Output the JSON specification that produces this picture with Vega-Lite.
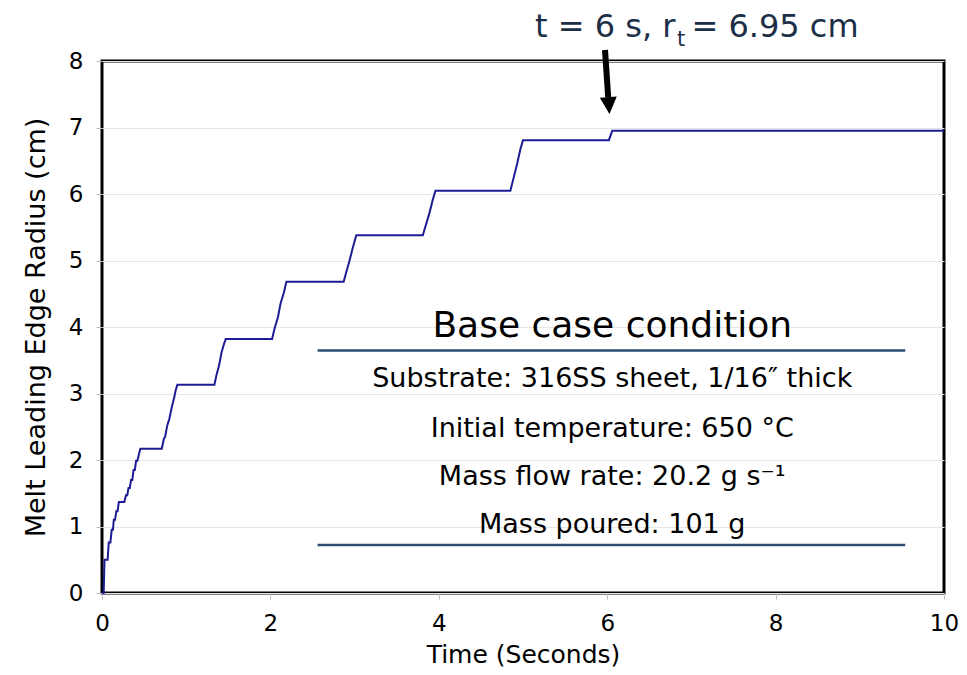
{
  "$schema": "https://vega.github.io/schema/vega-lite/v6.json",
  "width": 842,
  "height": 532,
  "autosize": {"type": "none"},
  "padding": {"left": 102, "top": 61, "right": 23, "bottom": 82},
  "background": "white",
  "config": {
    "view": {"stroke": "black", "strokeWidth": 3},
    "font": "DejaVu Sans",
    "axis": {
      "domain": false,
      "labelFont": "DejaVu Sans",
      "labelFontSize": 23,
      "labelColor": "black",
      "labelFlush": false,
      "titleFont": "DejaVu Sans",
      "titleFontSize": 25,
      "titleFontWeight": "normal",
      "titleColor": "black",
      "tickColor": "#bfbfbf",
      "tickSize": 6,
      "tickWidth": 1,
      "labelPadding": 13,
      "format": "d"
    }
  },
  "datasets": {
    "curve": [
      {"t": 0, "r": 0}, {"t": 0.02, "r": 0}, {"t": 0.03, "r": 0.5}, {"t": 0.067, "r": 0.5},
      {"t": 0.08, "r": 0.76}, {"t": 0.1, "r": 0.76}, {"t": 0.115, "r": 0.95}, {"t": 0.13, "r": 0.95},
      {"t": 0.14, "r": 1.1}, {"t": 0.155, "r": 1.1}, {"t": 0.17, "r": 1.23}, {"t": 0.185, "r": 1.23},
      {"t": 0.2, "r": 1.37}, {"t": 0.265, "r": 1.37}, {"t": 0.285, "r": 1.47}, {"t": 0.3, "r": 1.47},
      {"t": 0.315, "r": 1.58}, {"t": 0.33, "r": 1.58}, {"t": 0.345, "r": 1.7}, {"t": 0.36, "r": 1.7},
      {"t": 0.375, "r": 1.85}, {"t": 0.39, "r": 1.85}, {"t": 0.405, "r": 1.99}, {"t": 0.42, "r": 1.99},
      {"t": 0.455, "r": 2.17}, {"t": 0.71, "r": 2.17}, {"t": 0.735, "r": 2.32}, {"t": 0.75, "r": 2.35},
      {"t": 0.775, "r": 2.52}, {"t": 0.8, "r": 2.62}, {"t": 0.83, "r": 2.8}, {"t": 0.86, "r": 2.95},
      {"t": 0.875, "r": 3.05}, {"t": 0.895, "r": 3.13}, {"t": 1.335, "r": 3.13}, {"t": 1.36, "r": 3.28},
      {"t": 1.39, "r": 3.42}, {"t": 1.42, "r": 3.62}, {"t": 1.45, "r": 3.75}, {"t": 1.47, "r": 3.82},
      {"t": 2.02, "r": 3.82}, {"t": 2.05, "r": 3.98}, {"t": 2.09, "r": 4.15}, {"t": 2.12, "r": 4.35},
      {"t": 2.16, "r": 4.52}, {"t": 2.19, "r": 4.68}, {"t": 2.87, "r": 4.68}, {"t": 2.9, "r": 4.82},
      {"t": 2.94, "r": 5.0}, {"t": 2.98, "r": 5.2}, {"t": 3.02, "r": 5.38}, {"t": 3.81, "r": 5.38},
      {"t": 3.85, "r": 5.55}, {"t": 3.89, "r": 5.72}, {"t": 3.93, "r": 5.92}, {"t": 3.96, "r": 6.05},
      {"t": 4.85, "r": 6.05}, {"t": 4.89, "r": 6.25}, {"t": 4.93, "r": 6.45}, {"t": 4.97, "r": 6.68},
      {"t": 5.0, "r": 6.81}, {"t": 6.02, "r": 6.81}, {"t": 6.06, "r": 6.95}, {"t": 10, "r": 6.95}
    ],
    "boxLines": [
      {"t": 2.56, "t2": 9.54, "r": 3.645},
      {"t": 2.56, "t2": 9.54, "r": 0.722}
    ],
    "boxTitle": [
      {"t": 6.06, "r": 3.85, "label": "Base case condition"}
    ],
    "boxText": [
      {"t": 6.06, "r": 3.1, "label": "Substrate: 316SS sheet, 1/16″ thick"},
      {"t": 6.06, "r": 2.35, "label": "Initial temperature: 650 °C"},
      {"t": 6.06, "r": 1.62, "label": "Mass flow rate: 20.2 g s⁻¹"},
      {"t": 6.06, "r": 0.9, "label": "Mass poured: 101 g"}
    ],
    "annotLeft": [{"t": 6.81, "r": 8.36, "label": "t = 6 s, r"}],
    "annotSub": [{"t": 6.83, "r": 8.23, "label": "t"}],
    "annotRight": [{"t": 7.0, "r": 8.36, "label": "= 6.95 cm"}],
    "arrowShaft": [{"t": 5.974, "r": 8.165, "t2": 6.012, "r2": 7.45}],
    "arrowHead": [{"t": 6.02, "r": 7.33}]
  },
  "layer": [
    {
      "data": {"name": "curve"},
      "mark": {"type": "line", "color": "#1c1c94", "strokeWidth": 2},
      "encoding": {
        "x": {
          "field": "t", "type": "quantitative",
          "scale": {"domain": [0, 10], "nice": false, "zero": false},
          "axis": {"values": [0, 2, 4, 6, 8, 10], "grid": false, "title": "Time (Seconds)", "titlePadding": 7}
        },
        "y": {
          "field": "r", "type": "quantitative",
          "scale": {"domain": [0, 8], "nice": false},
          "axis": {"values": [0, 1, 2, 3, 4, 5, 6, 7, 8], "grid": true, "gridColor": "#e6e6e6", "gridWidth": 1, "title": "Melt Leading Edge Radius (cm)", "titlePadding": 18, "titleFontSize": 27}
        }
      }
    },
    {
      "data": {"name": "boxLines"},
      "mark": {"type": "rule", "color": "#2e4d72", "strokeWidth": 2.5},
      "encoding": {
        "x": {"field": "t", "type": "quantitative"},
        "x2": {"field": "t2"},
        "y": {"field": "r", "type": "quantitative"}
      }
    },
    {
      "data": {"name": "boxTitle"},
      "mark": {"type": "text", "font": "DejaVu Sans", "fontSize": 36, "color": "black", "align": "center", "baseline": "alphabetic"},
      "encoding": {
        "x": {"field": "t", "type": "quantitative"},
        "y": {"field": "r", "type": "quantitative"},
        "text": {"field": "label"}
      }
    },
    {
      "data": {"name": "boxText"},
      "mark": {"type": "text", "font": "DejaVu Sans", "fontSize": 27, "color": "black", "align": "center", "baseline": "alphabetic"},
      "encoding": {
        "x": {"field": "t", "type": "quantitative"},
        "y": {"field": "r", "type": "quantitative"},
        "text": {"field": "label"}
      }
    },
    {
      "data": {"name": "annotLeft"},
      "mark": {"type": "text", "font": "DejaVu Sans", "fontSize": 32, "color": "#1c2f47", "align": "right", "baseline": "alphabetic"},
      "encoding": {
        "x": {"field": "t", "type": "quantitative"},
        "y": {"field": "r", "type": "quantitative"},
        "text": {"field": "label"}
      }
    },
    {
      "data": {"name": "annotSub"},
      "mark": {"type": "text", "font": "DejaVu Sans", "fontSize": 21, "color": "#1c2f47", "align": "left", "baseline": "alphabetic"},
      "encoding": {
        "x": {"field": "t", "type": "quantitative"},
        "y": {"field": "r", "type": "quantitative"},
        "text": {"field": "label"}
      }
    },
    {
      "data": {"name": "annotRight"},
      "mark": {"type": "text", "font": "DejaVu Sans", "fontSize": 32, "color": "#1c2f47", "align": "left", "baseline": "alphabetic"},
      "encoding": {
        "x": {"field": "t", "type": "quantitative"},
        "y": {"field": "r", "type": "quantitative"},
        "text": {"field": "label"}
      }
    },
    {
      "data": {"name": "arrowShaft"},
      "mark": {"type": "rule", "color": "black", "strokeWidth": 6},
      "encoding": {
        "x": {"field": "t", "type": "quantitative"},
        "y": {"field": "r", "type": "quantitative"},
        "x2": {"field": "t2"},
        "y2": {"field": "r2"}
      }
    },
    {
      "data": {"name": "arrowHead"},
      "mark": {"type": "point", "shape": "M-1,-1L1,-1L0,1Z", "size": 289, "filled": true, "color": "black", "opacity": 1, "angle": -4},
      "encoding": {
        "x": {"field": "t", "type": "quantitative"},
        "y": {"field": "r", "type": "quantitative"}
      }
    }
  ]
}
